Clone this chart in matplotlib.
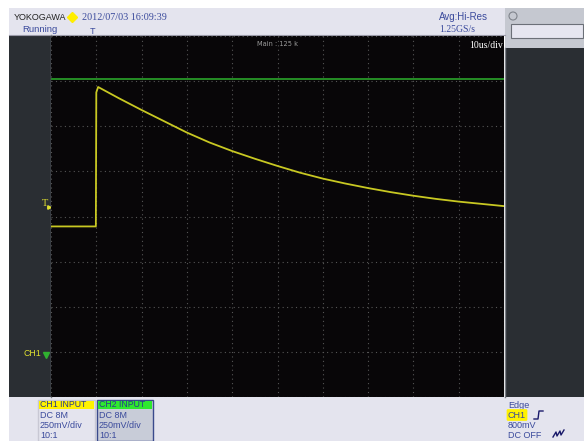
import matplotlib.pyplot as plt
from matplotlib.patches import Rectangle, Circle

# CH1 trace, x in divisions (10us/div), y in divisions
t_div = [0, 0.99, 1.0, 1.04, 1.5, 2, 2.5, 3, 3.5, 4, 4.5, 5, 5.5, 6, 6.5, 7, 7.5, 8, 8.5, 9, 9.5, 10]
ch1 = [-0.22, -0.22, 2.75, 2.87, 2.62, 2.36, 2.11, 1.86, 1.64, 1.45, 1.28, 1.12, 0.97, 0.84, 0.73, 0.63, 0.54, 0.46, 0.39, 0.33, 0.28, 0.23]
ch2_level = 3.04

ch1_info = ['DC 8M', '250mV/div', '10:1']
ch2_info = ['DC 8M', '250mV/div', '10:1']
trig_info = ['Edge', 'CH1', '800mV', 'DC OFF']

W, H = 584, 441
fig = plt.figure(figsize=(W / 100, H / 100), dpi=100)
fig.patch.set_facecolor('white')

# whole screen drawn in pixel coordinates
bg = fig.add_axes([0, 0, 1, 1])
bg.set_xlim(0, W)
bg.set_ylim(H, 0)
bg.axis('off')

light = '#e4e4ee'
dark = '#2a2e33'
blue = '#3a4a9c'

def box(x0, y0, x1, y1, fc, ec='none', lw=0, z=1):
    bg.add_patch(Rectangle((x0, y0), x1 - x0, y1 - y0, facecolor=fc, edgecolor=ec, lw=lw, zorder=z))

box(9, 8, 505, 35, light)
bg.plot([9, 505], [35, 35], color='#9a9aa8', lw=0.8, zorder=2)
box(505, 8, W, 48, '#c5c8d0')
box(9, 35, 51, 397, dark)
box(505, 48, W, 397, dark)
box(9, 397, W, H, light)
bg.plot([51, 51], [35, 397], color='#7a7e86', lw=1, zorder=2)
bg.plot([505, 505], [48, 397], color='#7a7e86', lw=1, zorder=2)

# header
bg.text(14, 17, 'YOKOGAWA', fontsize=6.5, color='#222222', va='center', family='Liberation Sans')
bg.plot([72], [17], marker='D', color='#ffee00', markersize=5, zorder=3)
bg.text(82, 18, '2012/07/03 16:09:39', fontsize=7.3, color=blue, va='center', family='Liberation Serif')
bg.text(22, 29.5, 'Running', fontsize=6.8, color=blue, va='center', family='Liberation Sans')
bg.text(90, 31, 'T', fontsize=6.5, color=blue, va='center', family='Liberation Sans')
bg.text(439, 17, 'Avg:Hi-Res', fontsize=7, color=blue, va='center', family='Liberation Sans')
bg.text(439, 29, '1.25GS/s', fontsize=7, color=blue, va='center', family='Liberation Serif')

bg.add_patch(Circle((513, 16), 4, facecolor='#c5c8d0', edgecolor='#80848c', lw=0.8, zorder=3))
box(511, 24, 583, 38, '#e6e6f0', ec='#6c7078', lw=0.8, z=3)

# left panel markers
bg.text(45, 204, 'T', fontsize=7.5, color='#e0e030', va='center', ha='center', family='Liberation Serif')
bg.plot([49], [207], marker='>', color='#e0e030', markersize=2.5, zorder=3)
bg.text(24, 354, 'CH1', fontsize=6.3, color='#e0e030', va='center', family='Liberation Sans')
bg.plot([46], [355], marker='v', color='#30b030', markersize=5, zorder=3)

# channel boxes
for x0, x1, head, hc, body, ec, info in [(38, 95, 'CH1 INPUT', '#fff200', light, '#c8c8d4', ch1_info),
                                         (97, 153, 'CH2 INPUT', '#2ee82e', '#c8ccd8', '#3a4a8c', ch2_info)]:
    box(x0, 400, x1, H, body, ec=ec, lw=1, z=2)
    box(x0 + 1, 400.5, x1 - 1, 408.5, hc, z=3)
    bg.text(x0 + 2, 404.5, head, fontsize=6.3, color='#2a3a8a', va='center', family='Liberation Sans', zorder=4)
    for i, s in enumerate(info):
        bg.text(x0 + 2, 415 + 10 * i, s, fontsize=6.5, color=blue, va='center', family='Liberation Sans', zorder=4)

# trigger info
for i, s in enumerate(trig_info):
    kw = {}
    if s == 'CH1':
        kw['bbox'] = dict(boxstyle='round,pad=0.15', fc='#fff200', ec='none')
    bg.text(508, 405 + 10 * i, s, fontsize=6.5, color=blue, va='center', family='Liberation Sans', zorder=4, **kw)
bg.plot([534, 538, 539, 543], [419, 419, 411, 411], color='#1a1a6a', lw=1, zorder=4)
bg.plot([553, 556, 557, 560, 561, 564], [437, 432, 436, 431, 435, 430], color='#1a1a6a', lw=1, zorder=4)

# waveform area
ax = fig.add_axes([51 / W, (H - 397) / H, 453 / W, 361 / H])
ax.set_facecolor('#080608')
ax.set_xlim(0, 10)
ax.set_ylim(-4, 4)
ax.set_xticks(range(11))
ax.set_yticks(range(-4, 5))
ax.tick_params(length=0, labelbottom=False, labelleft=False)
ax.grid(color='#555555', linestyle=(0, (1, 3)), linewidth=0.8)
for sp in ax.spines.values():
    sp.set_visible(False)

ax.axhline(ch2_level, color='#2aa42a', lw=1.2)
ax.plot(t_div, ch1, color='#c8c822', lw=1.3)

ax.text(0.5, 0.985, 'Main : 125 k', transform=ax.transAxes, fontsize=4.8, color='#9a9a9a', ha='center', va='top')
ax.text(0.998, 0.985, '10us/div', transform=ax.transAxes, fontsize=7, color='white', ha='right', va='top', family='Liberation Serif')

fig.savefig('out.png', dpi=100)
